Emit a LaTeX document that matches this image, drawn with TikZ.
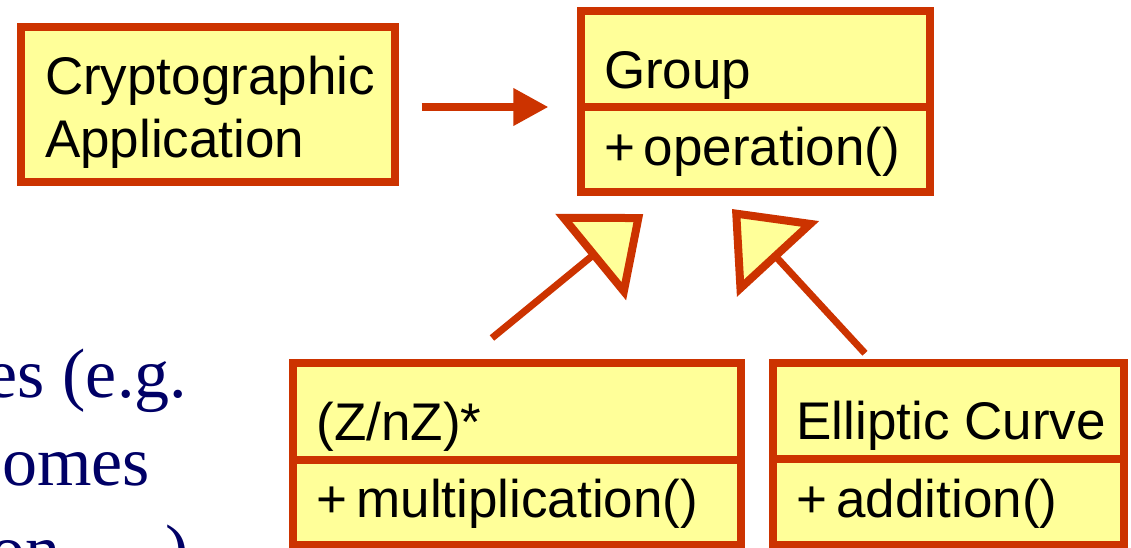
\documentclass[tikz,border=0pt]{standalone}
\usepackage{fontspec}
\setmainfont{Liberation Sans}
\newfontfamily\slideserif{Liberation Serif}
\usetikzlibrary{arrows.meta}
\definecolor{umlred}{RGB}{204,51,0}
\definecolor{umlyellow}{RGB}{255,255,153}
\definecolor{slideblue}{RGB}{0,0,102}
\begin{document}
\begin{tikzpicture}[x=1pt,y=-1pt,
  classbox/.style={draw=umlred, fill=umlyellow, line width=8pt, inner sep=0pt, outer sep=0pt, line join=miter},
  divider/.style={draw=umlred, line width=8pt},
  umltext/.style={anchor=base west, inner sep=0pt, outer sep=0pt, font=\fontsize{53}{63}\selectfont},
  slidetext/.style={anchor=base east, inner sep=0pt, outer sep=0pt, text=slideblue, font=\slideserif\fontsize{70}{88}\selectfont},
  assoc/.style={draw=umlred, line width=7.3pt, -{Triangle[length=35pt,width=36pt]}},
  gen/.style={draw=umlred, line width=7pt, -{Triangle[fill=umlyellow,length=68pt,width=110pt,line width=8pt]}}
]
\useasboundingbox (0,0) rectangle (1131,548);
\clip (0,0) rectangle (1131,548);

% class boxes
\node[classbox, minimum width=373.5pt, minimum height=154.5pt] (crypto) at (207.75,104.75) {};
\node[classbox, minimum width=348.7pt, minimum height=181pt] (group) at (755.35,101.5) {};
\node[classbox, minimum width=448pt, minimum height=181.2pt] (znz) at (517,453.9) {};
\node[classbox, minimum width=350.7pt, minimum height=181.2pt] (ell) at (948.35,453.9) {};

% compartment dividers
\draw[divider] (group.west |- 0,106.7) -- (group.east |- 0,106.7);
\draw[divider] (znz.west |- 0,459.7) -- (znz.east |- 0,459.7);
\draw[divider] (ell.west |- 0,459) -- (ell.east |- 0,459);

% texts in boxes
\node[umltext] (cryptoA) at (45,95) {Cryptographic};
\node[umltext] (cryptoB) at (45,158) {Application};
\node[umltext] (groupname) at (604,88.3) {Group};
\node[umltext] (groupop) at (604,165.5) {+\hspace{0.17em}operation()};
\node[umltext] (znzname) at (316.5,440) {(Z/nZ)*};
\node[umltext] (znzop) at (316.5,517) {+\hspace{0.17em}multiplication()};
\node[umltext] (ellname) at (796.5,439.3) {Elliptic Curve};
\node[umltext] (ellop) at (796.5,517) {+\hspace{0.17em}addition()};

% slide text behind (cut off)
\node[slidetext] (s1) at (187,397) {es (e.g.};
\node[slidetext] (s2) at (150,485) {omes};
\node[slidetext] (s3) at (189,573) {on \ldots{} )};

% connectors
\draw[assoc, shorten <=27.2pt, shorten >=32.7pt] ([yshift=-2.25pt]crypto.east) -- ([yshift=-5.5pt]group.west);
\draw[gen, shorten <=39.9pt, shorten >=34.7pt] ([xshift=-55.9pt]znz.north) -- ([xshift=-85.25pt]group.south);
\draw[gen, shorten <=13.6pt, shorten >=23.1pt] ([xshift=-74.15pt]ell.north) -- ([xshift=-39.05pt]group.south);
\end{tikzpicture}
\end{document}
